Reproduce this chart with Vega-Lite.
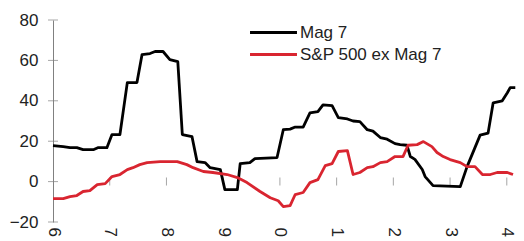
{
  "$schema": "https://vega.github.io/schema/vega-lite/v6.json",
  "width": 464,
  "height": 202,
  "autosize": {"type": "none"},
  "padding": {"left": 53, "top": 20, "right": 7, "bottom": 19},
  "background": "white",
  "config": {
    "view": {"stroke": null},
    "font": "Liberation Sans",
    "axis": {"grid": false, "labelFont": "Liberation Sans", "labelFontSize": 17, "labelColor": "#222222", "domainColor": "#808080", "tickColor": "#808080", "title": null}
  },
  "datasets": {
    "series": [
      {"s": "Mag 7", "t": 2016.00, "v": 17.8},
      {"s": "Mag 7", "t": 2016.18, "v": 17.3},
      {"s": "Mag 7", "t": 2016.30, "v": 16.8},
      {"s": "Mag 7", "t": 2016.42, "v": 16.8},
      {"s": "Mag 7", "t": 2016.53, "v": 15.8},
      {"s": "Mag 7", "t": 2016.71, "v": 15.8},
      {"s": "Mag 7", "t": 2016.79, "v": 16.8},
      {"s": "Mag 7", "t": 2016.95, "v": 16.8},
      {"s": "Mag 7", "t": 2017.04, "v": 23.3},
      {"s": "Mag 7", "t": 2017.18, "v": 23.3},
      {"s": "Mag 7", "t": 2017.31, "v": 49},
      {"s": "Mag 7", "t": 2017.48, "v": 49},
      {"s": "Mag 7", "t": 2017.57, "v": 62.9},
      {"s": "Mag 7", "t": 2017.71, "v": 63.4},
      {"s": "Mag 7", "t": 2017.80, "v": 64.4},
      {"s": "Mag 7", "t": 2017.94, "v": 64.4},
      {"s": "Mag 7", "t": 2018.06, "v": 60.4},
      {"s": "Mag 7", "t": 2018.20, "v": 59.4},
      {"s": "Mag 7", "t": 2018.28, "v": 23.3},
      {"s": "Mag 7", "t": 2018.45, "v": 22.3},
      {"s": "Mag 7", "t": 2018.54, "v": 9.9},
      {"s": "Mag 7", "t": 2018.68, "v": 9.4},
      {"s": "Mag 7", "t": 2018.77, "v": 6.9},
      {"s": "Mag 7", "t": 2018.95, "v": 5.9},
      {"s": "Mag 7", "t": 2019.03, "v": -4},
      {"s": "Mag 7", "t": 2019.25, "v": -4},
      {"s": "Mag 7", "t": 2019.30, "v": 8.9},
      {"s": "Mag 7", "t": 2019.47, "v": 9.4},
      {"s": "Mag 7", "t": 2019.56, "v": 11.4},
      {"s": "Mag 7", "t": 2019.95, "v": 11.9},
      {"s": "Mag 7", "t": 2020.06, "v": 25.7},
      {"s": "Mag 7", "t": 2020.18, "v": 26},
      {"s": "Mag 7", "t": 2020.27, "v": 27},
      {"s": "Mag 7", "t": 2020.41, "v": 27},
      {"s": "Mag 7", "t": 2020.53, "v": 34},
      {"s": "Mag 7", "t": 2020.67, "v": 34.6},
      {"s": "Mag 7", "t": 2020.76, "v": 38},
      {"s": "Mag 7", "t": 2020.92, "v": 37.6},
      {"s": "Mag 7", "t": 2021.03, "v": 31.7},
      {"s": "Mag 7", "t": 2021.19, "v": 31},
      {"s": "Mag 7", "t": 2021.29, "v": 30},
      {"s": "Mag 7", "t": 2021.41, "v": 29.7},
      {"s": "Mag 7", "t": 2021.54, "v": 25.7},
      {"s": "Mag 7", "t": 2021.64, "v": 25},
      {"s": "Mag 7", "t": 2021.77, "v": 21.8},
      {"s": "Mag 7", "t": 2021.89, "v": 21},
      {"s": "Mag 7", "t": 2022.03, "v": 18.8},
      {"s": "Mag 7", "t": 2022.12, "v": 18.3},
      {"s": "Mag 7", "t": 2022.24, "v": 18},
      {"s": "Mag 7", "t": 2022.30, "v": 12.4},
      {"s": "Mag 7", "t": 2022.38, "v": 11},
      {"s": "Mag 7", "t": 2022.51, "v": 6},
      {"s": "Mag 7", "t": 2022.56, "v": 2.5},
      {"s": "Mag 7", "t": 2022.70, "v": -2},
      {"s": "Mag 7", "t": 2023.18, "v": -2.5},
      {"s": "Mag 7", "t": 2023.30, "v": 7.4},
      {"s": "Mag 7", "t": 2023.53, "v": 23},
      {"s": "Mag 7", "t": 2023.67, "v": 24},
      {"s": "Mag 7", "t": 2023.76, "v": 39},
      {"s": "Mag 7", "t": 2023.92, "v": 40},
      {"s": "Mag 7", "t": 2024.01, "v": 44},
      {"s": "Mag 7", "t": 2024.06, "v": 46.5},
      {"s": "Mag 7", "t": 2024.15, "v": 46.5},
      {"s": "S&P 500 ex Mag 7", "t": 2016.00, "v": -8.4},
      {"s": "S&P 500 ex Mag 7", "t": 2016.18, "v": -8.4},
      {"s": "S&P 500 ex Mag 7", "t": 2016.30, "v": -7.4},
      {"s": "S&P 500 ex Mag 7", "t": 2016.42, "v": -6.9},
      {"s": "S&P 500 ex Mag 7", "t": 2016.53, "v": -4.9},
      {"s": "S&P 500 ex Mag 7", "t": 2016.65, "v": -4.5},
      {"s": "S&P 500 ex Mag 7", "t": 2016.78, "v": -1.5},
      {"s": "S&P 500 ex Mag 7", "t": 2016.92, "v": -1},
      {"s": "S&P 500 ex Mag 7", "t": 2017.04, "v": 2.5},
      {"s": "S&P 500 ex Mag 7", "t": 2017.18, "v": 3.5},
      {"s": "S&P 500 ex Mag 7", "t": 2017.31, "v": 5.9},
      {"s": "S&P 500 ex Mag 7", "t": 2017.41, "v": 6.9},
      {"s": "S&P 500 ex Mag 7", "t": 2017.53, "v": 8.4},
      {"s": "S&P 500 ex Mag 7", "t": 2017.66, "v": 9.4},
      {"s": "S&P 500 ex Mag 7", "t": 2017.89, "v": 9.9},
      {"s": "S&P 500 ex Mag 7", "t": 2018.19, "v": 9.9},
      {"s": "S&P 500 ex Mag 7", "t": 2018.36, "v": 8.4},
      {"s": "S&P 500 ex Mag 7", "t": 2018.47, "v": 6.9},
      {"s": "S&P 500 ex Mag 7", "t": 2018.65, "v": 5},
      {"s": "S&P 500 ex Mag 7", "t": 2018.82, "v": 4.5},
      {"s": "S&P 500 ex Mag 7", "t": 2019.07, "v": 3.5},
      {"s": "S&P 500 ex Mag 7", "t": 2019.25, "v": 2},
      {"s": "S&P 500 ex Mag 7", "t": 2019.42, "v": -0.5},
      {"s": "S&P 500 ex Mag 7", "t": 2019.65, "v": -4.9},
      {"s": "S&P 500 ex Mag 7", "t": 2019.83, "v": -8},
      {"s": "S&P 500 ex Mag 7", "t": 2019.97, "v": -9.5},
      {"s": "S&P 500 ex Mag 7", "t": 2020.06, "v": -12.4},
      {"s": "S&P 500 ex Mag 7", "t": 2020.18, "v": -11.9},
      {"s": "S&P 500 ex Mag 7", "t": 2020.27, "v": -6.4},
      {"s": "S&P 500 ex Mag 7", "t": 2020.41, "v": -5.4},
      {"s": "S&P 500 ex Mag 7", "t": 2020.53, "v": -0.5},
      {"s": "S&P 500 ex Mag 7", "t": 2020.67, "v": 1},
      {"s": "S&P 500 ex Mag 7", "t": 2020.80, "v": 7.9},
      {"s": "S&P 500 ex Mag 7", "t": 2020.92, "v": 8.9},
      {"s": "S&P 500 ex Mag 7", "t": 2021.03, "v": 14.9},
      {"s": "S&P 500 ex Mag 7", "t": 2021.19, "v": 15.3},
      {"s": "S&P 500 ex Mag 7", "t": 2021.29, "v": 3.5},
      {"s": "S&P 500 ex Mag 7", "t": 2021.41, "v": 4.5},
      {"s": "S&P 500 ex Mag 7", "t": 2021.54, "v": 6.9},
      {"s": "S&P 500 ex Mag 7", "t": 2021.64, "v": 7.4},
      {"s": "S&P 500 ex Mag 7", "t": 2021.77, "v": 9.4},
      {"s": "S&P 500 ex Mag 7", "t": 2021.89, "v": 9.9},
      {"s": "S&P 500 ex Mag 7", "t": 2022.03, "v": 12.4},
      {"s": "S&P 500 ex Mag 7", "t": 2022.17, "v": 12.4},
      {"s": "S&P 500 ex Mag 7", "t": 2022.26, "v": 18},
      {"s": "S&P 500 ex Mag 7", "t": 2022.42, "v": 18.3},
      {"s": "S&P 500 ex Mag 7", "t": 2022.53, "v": 19.8},
      {"s": "S&P 500 ex Mag 7", "t": 2022.68, "v": 17.3},
      {"s": "S&P 500 ex Mag 7", "t": 2022.77, "v": 14.4},
      {"s": "S&P 500 ex Mag 7", "t": 2022.88, "v": 12.4},
      {"s": "S&P 500 ex Mag 7", "t": 2023.00, "v": 10.9},
      {"s": "S&P 500 ex Mag 7", "t": 2023.18, "v": 9.4},
      {"s": "S&P 500 ex Mag 7", "t": 2023.30, "v": 7.4},
      {"s": "S&P 500 ex Mag 7", "t": 2023.44, "v": 7.4},
      {"s": "S&P 500 ex Mag 7", "t": 2023.57, "v": 3.5},
      {"s": "S&P 500 ex Mag 7", "t": 2023.71, "v": 3.5},
      {"s": "S&P 500 ex Mag 7", "t": 2023.83, "v": 4.5},
      {"s": "S&P 500 ex Mag 7", "t": 2024.01, "v": 4.5},
      {"s": "S&P 500 ex Mag 7", "t": 2024.11, "v": 3.5}
    ],
    "xticks": [
      {"t": 2017}, {"t": 2018}, {"t": 2019}, {"t": 2020}, {"t": 2021}, {"t": 2022}, {"t": 2023}, {"t": 2024}
    ],
    "yticks": [
      {"v": -20}, {"v": 0}, {"v": 20}, {"v": 40}, {"v": 60}, {"v": 80}
    ]
  },
  "layer": [
    {
      "mark": {"type": "rule", "color": "#808080", "strokeWidth": 1},
      "encoding": {"y": {"datum": 0, "type": "quantitative", "scale": {"domain": [-20, 80], "nice": false}}}
    },
    {
      "data": {"name": "xticks"},
      "mark": {"type": "tick", "orient": "vertical", "size": 8, "thickness": 1, "color": "#808080"},
      "encoding": {
        "x": {"field": "t", "type": "quantitative", "scale": {"domain": [2016, 2024.18], "nice": false, "zero": false},
              "axis": {"values": [2016, 2017, 2018, 2019, 2020, 2021, 2022, 2023, 2024], "labelExpr": "slice(toString(datum.value), 3)", "labelAngle": 90, "domain": false, "ticks": false, "tickSize": 0, "labelPadding": 5, "title": null}},
        "y": {"datum": 0, "type": "quantitative"}
      }
    },
    {
      "data": {"name": "yticks"},
      "mark": {"type": "tick", "orient": "horizontal", "size": 10, "thickness": 1, "color": "#808080"},
      "encoding": {
        "x": {"datum": 2016, "type": "quantitative"},
        "y": {"field": "v", "type": "quantitative", "scale": {"domain": [-20, 80], "nice": false},
              "axis": {"values": [-20, 0, 20, 40, 60, 80], "ticks": false, "tickSize": 0, "labelPadding": 15, "title": null}}
      }
    },
    {
      "data": {"name": "series"},
      "mark": {"type": "line", "strokeWidth": 2.8, "strokeJoin": "round"},
      "encoding": {
        "x": {"field": "t", "type": "quantitative"},
        "y": {"field": "v", "type": "quantitative"},
        "color": {
          "field": "s", "type": "nominal",
          "scale": {"domain": ["Mag 7", "S&P 500 ex Mag 7"], "range": ["#000000", "#d92530"]},
          "legend": {"orient": "none", "legendX": 211, "legendY": 3, "title": null, "symbolType": "M-3,0H3", "symbolSize": 245, "symbolStrokeWidth": 3, "labelFontSize": 17, "labelFont": "Liberation Sans", "labelColor": "#222222", "labelOffset": 17, "rowPadding": 4, "padding": 0}
        }
      }
    }
  ]
}
